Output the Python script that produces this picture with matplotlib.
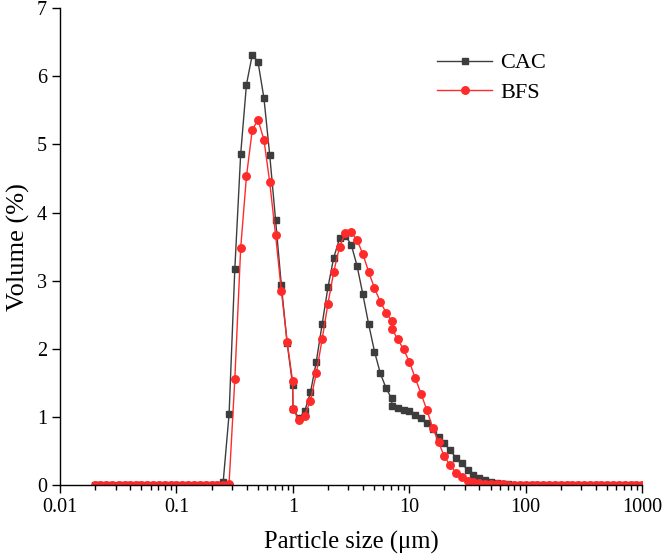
import matplotlib
matplotlib.use("Agg")
import matplotlib.pyplot as plt
from matplotlib.ticker import LogLocator, FixedLocator, NullFormatter

plt.rcParams['font.family'] = ['Liberation Serif', 'DejaVu Serif']
plt.rcParams['mathtext.fontset'] = 'stix'

size_um = [0.020, 0.022, 0.025, 0.028, 0.032, 0.036, 0.040, 0.045, 0.050, 0.056,
           0.063, 0.071, 0.080, 0.089, 0.100, 0.112, 0.126, 0.142, 0.159, 0.178,
           0.200, 0.224, 0.252, 0.283, 0.317, 0.356, 0.399, 0.448, 0.502, 0.564,
           0.632, 0.710, 0.796, 0.893, 0.995, 1.002, 1.125, 1.262, 1.416, 1.589,
           1.783, 2.000, 2.244, 2.518, 2.825, 3.170, 3.557, 3.991, 4.477, 5.024,
           5.637, 6.325, 7.050, 7.096, 7.962, 8.934, 10.024, 11.247, 12.619, 14.159,
           15.887, 17.825, 20.000, 22.440, 25.179, 28.251, 31.698, 35.566, 39.905, 44.774,
           50.238, 56.368, 63.246, 70.963, 79.621, 89.337, 100.237, 112.468, 126.191, 141.589,
           158.866, 178.250, 200.000, 224.404, 251.785, 282.508, 316.979, 355.656, 399.052, 447.744,
           502.377, 563.677, 632.456, 709.627, 796.214, 893.367, 1002.374]

cac = [0]*22 + [0.05, 1.04, 3.17, 4.86, 5.88, 6.32, 6.21, 5.68, 4.85, 3.89,
                2.93, 2.08, 1.47, 1.12, 0.98, 1.08, 1.36, 1.81, 2.36, 2.90,
                3.34, 3.62, 3.66, 3.53, 3.22, 2.80, 2.36, 1.96, 1.64, 1.42,
                1.27, 1.16, 1.13, 1.10, 1.08, 1.03, 0.98, 0.91, 0.82, 0.71,
                0.61, 0.51, 0.40, 0.32, 0.22, 0.15, 0.10, 0.07, 0.05, 0.03,
                0.02, 0.01] + [0]*23

bfs = [0]*23 + [0.02, 1.55, 3.48, 4.53, 5.22, 5.36, 5.07, 4.45, 3.67, 2.85,
                2.10, 1.52, 1.11, 0.96, 1.02, 1.24, 1.64, 2.14, 2.66, 3.13,
                3.50, 3.70, 3.71, 3.60, 3.39, 3.13, 2.89, 2.69, 2.53, 2.41,
                2.29, 2.14, 1.99, 1.81, 1.57, 1.34, 1.10, 0.84, 0.63, 0.42,
                0.29, 0.18, 0.11, 0.06, 0.04, 0.03, 0.02, 0.02, 0.01, 0.01] + [0]*24

x_ticks = [0.01, 0.1, 1, 10, 100, 1000]
x_ticklabels = ['0.01', '0.1', '1', '10', '100', '1000']
y_ticks = [0, 1, 2, 3, 4, 5, 6, 7]

fig = plt.figure(figsize=(6.64, 5.57), dpi=100)
ax = fig.add_axes([0.0905, 0.1293, 0.8765, 0.8558])

ax.plot(size_um, cac, color='#3d3d3d', lw=1.0, marker='s', ms=4.8,
        mfc='#3d3d3d', mec='#3d3d3d', label='CAC')
ax.plot(size_um, bfs, color='#ff2a2a', lw=1.0, marker='o', ms=5.4,
        mfc='#ff2a2a', mec='#ff2a2a', label='BFS')

ax.set_xscale('log')
ax.set_xlim(0.01, 1000)
ax.set_ylim(0, 7)
ax.xaxis.set_major_locator(FixedLocator(x_ticks))
ax.set_xticklabels(x_ticklabels)
ax.xaxis.set_minor_locator(LogLocator(base=10, subs=range(2, 10)))
ax.xaxis.set_minor_formatter(NullFormatter())
ax.set_yticks(y_ticks)

for s in ['top', 'right']:
    ax.spines[s].set_visible(False)
for s in ['left', 'bottom']:
    ax.spines[s].set_linewidth(1.0)
    ax.spines[s].set_color('black')

ax.tick_params(axis='both', which='major', direction='out', length=6, width=1.0,
               labelsize=14.5, colors='black')
ax.tick_params(axis='x', which='minor', direction='out', length=3.5, width=1.0)

ax.set_xlabel('Particle size (μm)', fontsize=17.7, labelpad=10)
ax.set_ylabel('Volume (%)', fontsize=19, labelpad=5)

leg = ax.legend(loc='upper left', bbox_to_anchor=(0.632, 0.925), frameon=False,
                fontsize=16, handlelength=2.5, handletextpad=0.35,
                labelspacing=0.4, borderaxespad=0)

fig.savefig('out.png', dpi=100)
